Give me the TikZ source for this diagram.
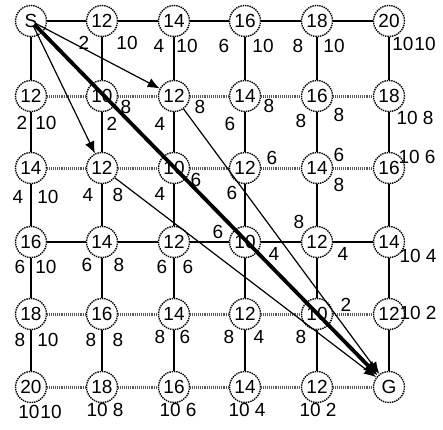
\documentclass[tikz,border=0pt]{standalone}
\usepackage{fontspec}
\setmainfont{Liberation Sans}
\usetikzlibrary{arrows.meta}
\begin{document}
\begin{tikzpicture}[x=1pt,y=-1pt,
  st/.style={circle,draw=black,line width=1.4pt,dash pattern=on 1.4pt off 0.9pt,fill=white,minimum size=31pt,inner sep=0pt,font=\fontsize{19}{19}\selectfont},
  lab/.style={inner sep=0pt,font=\fontsize{19}{19}\selectfont},
  solidedge/.style={line width=1.9pt},
  dotedge/.style={line width=3pt,gray!70!black,dash pattern=on 1pt off 0.9pt},
  thinarrow/.style={line width=1.2pt,-{Latex[length=12pt,width=10pt]}},
  bestarrow/.style={line width=3.8pt,-{Latex[length=14pt,width=13pt]}}]
\useasboundingbox (0,0) rectangle (443,429);
% nodes: n<col><row>
\node[st] (n11) at (31,21) {S};
\node[st] (n21) at (102,21) {12};
\node[st] (n31) at (174,21) {14};
\node[st] (n41) at (245,21) {16};
\node[st] (n51) at (317,21) {18};
\node[st] (n61) at (389,21) {20};
\node[st] (n12) at (31,96) {12};
\node[st] (n22) at (102,96) {10};
\node[st] (n32) at (174,96) {12};
\node[st] (n42) at (245,96) {14};
\node[st] (n52) at (317,96) {16};
\node[st] (n62) at (389,96) {18};
\node[st] (n13) at (31,168) {14};
\node[st] (n23) at (102,168) {12};
\node[st] (n33) at (174,168) {10};
\node[st] (n43) at (245,168) {12};
\node[st] (n53) at (317,168) {14};
\node[st] (n63) at (389,168) {16};
\node[st] (n14) at (31,242) {16};
\node[st] (n24) at (102,242) {14};
\node[st] (n34) at (174,242) {12};
\node[st] (n44) at (245,242) {10};
\node[st] (n54) at (317,242) {12};
\node[st] (n64) at (389,242) {14};
\node[st] (n15) at (31,314) {18};
\node[st] (n25) at (102,314) {16};
\node[st] (n35) at (174,314) {14};
\node[st] (n45) at (245,314) {12};
\node[st] (n55) at (317,314) {10};
\node[st] (n65) at (389,314) {12};
\node[st] (n16) at (31,387) {20};
\node[st] (n26) at (102,387) {18};
\node[st] (n36) at (174,387) {16};
\node[st] (n46) at (245,387) {14};
\node[st] (n56) at (317,387) {12};
\node[st] (n66) at (389,387) {G};
% horizontal edges
\foreach \r/\sty in {1/solidedge,2/dotedge,3/dotedge,4/solidedge,5/dotedge,6/dotedge}{
  \foreach \c in {1,...,5}{
    \pgfmathtruncatemacro{\d}{\c+1}
    \draw[\sty] (n\c\r) -- (n\d\r);
  }
}
% vertical edges
\foreach \c in {1,...,6}{
  \foreach \r in {1,...,5}{
    \pgfmathtruncatemacro{\s}{\r+1}
    \draw[solidedge] (n\c\r) -- (n\c\s);
  }
}
% labels
\foreach \x/\y/\t [count=\i] in {
 84/43/2, 127/43/10, 159/46/4, 187/46/10, 224/46/6, 263/46/10, 298/46/8, 334/46/10, 414/44/10\kern1pt10,
 22/123/2, 46/123/10, 126/107/8, 112/124/2, 200/107/8, 160/124/4, 269/106/8, 230/124/6, 301/121/8, 339/115/8, 415/118/10 8,
 18/197/4, 48/197/10, 88/195/4, 118/195/8, 160/194/4, 196/180/6, 272/158/6, 232/193/6, 339/155/6, 339/185/8, 417/157/10 6,
 20/267/6, 46/267/10, 87/265/6, 119/265/8, 162/267/6, 188/267/6, 218/232/6, 274/254/4, 299/222/8, 343/254/4, 418/256/10 4,
 20/340/8, 48/340/10, 91/340/8, 118/340/8, 160/337/8, 185/337/6, 229/337/8, 259/337/4, 346/305/2, 301/337/8, 418/313/10 2,
 40/412/10\kern1pt10, 105/410/10 8, 178/410/10 6, 247/410/10 4, 318/410/10 2}{
  \node[lab] (l\i) at (\x,\y) {\t};
}
% search arrows
\draw[bestarrow,shorten <=5pt] (n11.center) -- (n66);
\draw[thinarrow,shorten <=5pt] (n11.center) -- (n32);
\draw[thinarrow,shorten <=5pt] (n11.center) -- (n23);
\draw[thinarrow] (n32) -- (n66);
\draw[thinarrow] (n23) -- (n66);
\end{tikzpicture}
\end{document}
